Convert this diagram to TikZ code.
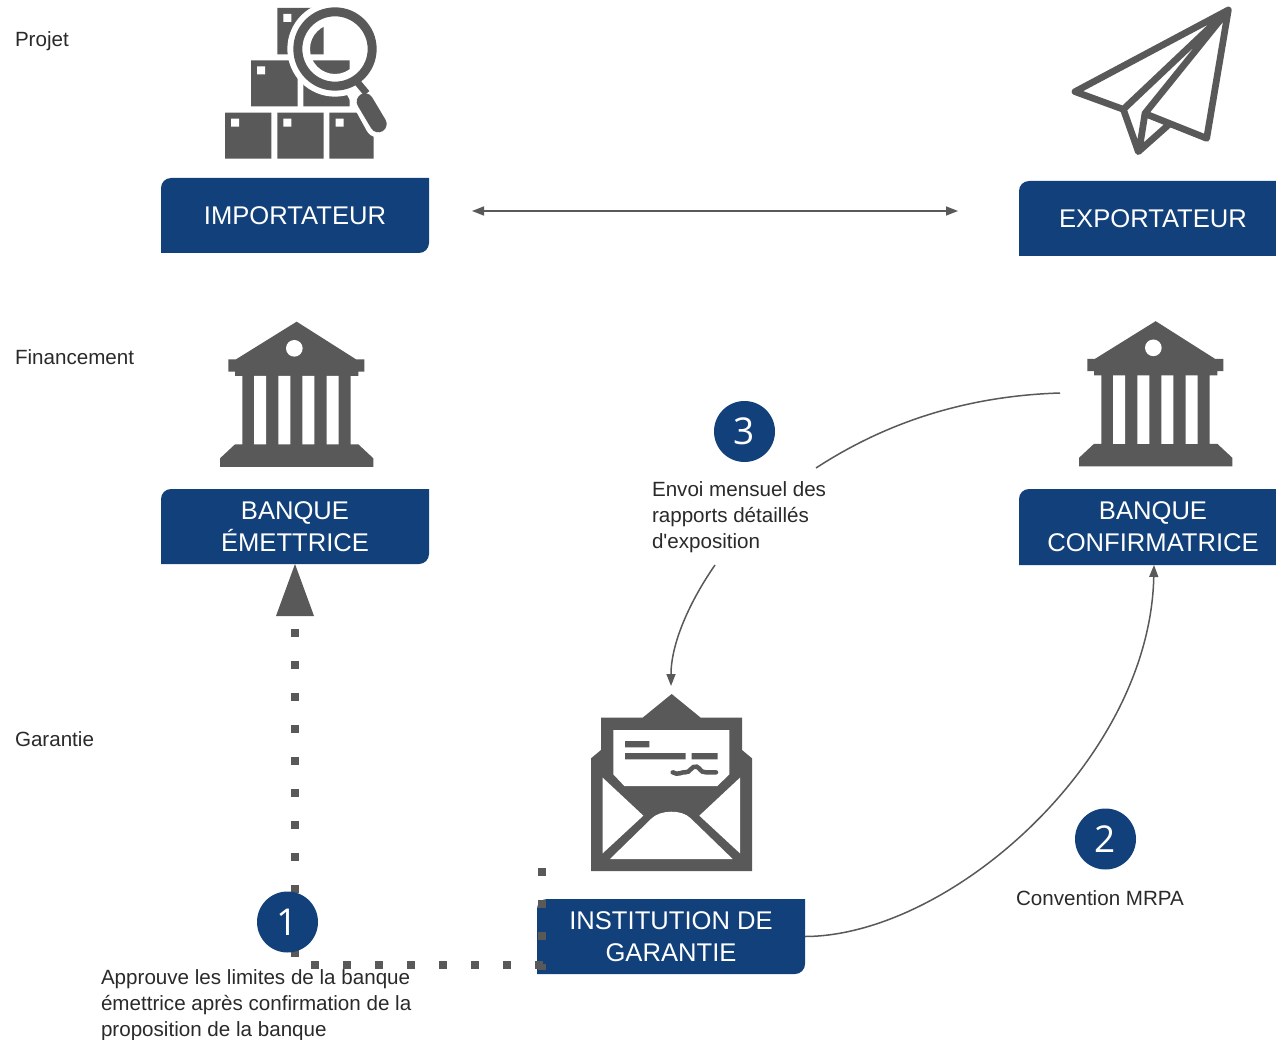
\documentclass[tikz,border=0pt]{standalone}
\usepackage{fontspec}
\setmainfont{Liberation Sans}
\newfontfamily\plainfont{Liberation Sans}
\newfontfamily\digitfont{Open Sans}
\usetikzlibrary{arrows.meta,backgrounds}
\definecolor{navy}{HTML}{11407A}
\definecolor{ink}{HTML}{595959}
\definecolor{txt}{HTML}{2A2A2A}
\tikzset{
  x=1pt,y=-1pt,
  boxlabel/.style={inner sep=0pt,outer sep=0pt,text=white,align=center,font=\fontsize{25.6}{32}\selectfont},
  caption/.style={inner sep=0pt,outer sep=0pt,anchor=north west,align=left,text=txt,font=\fontsize{20.6}{25.8}\selectfont},
  badge/.style={circle,fill=navy,inner sep=0pt,minimum size=61pt,text=white,font=\digitfont\fontsize{37}{37}\selectfont},
  thinarrow/.style={draw=ink,line width=1.5pt},
  tip/.style={-{Triangle[length=12pt,width=9pt]}},
  dots/.style={draw=ink,line width=8pt,dash pattern=on 8pt off 24pt},
  bank/.pic={
    \fill[ink] (260,20)--(438,133)--(463,133)--(463,170)--(445,170)--(445,183)--(422,183)--(422,388)--(445,388)--(490,430)--(490,456)--(30,456)--(30,430)--(75,388)--(97,388)--(97,183)--(75,183)--(75,170)--(55,170)--(55,133)--(78,133)--cycle;
    \fill[white] (132,183) rectangle (168,388) (205,183) rectangle (241,388) (277,183) rectangle (313,388) (350,183) rectangle (386,388);
    \fill[white] (253,100) circle (25);
  }
}
% navy box: top-left corner always rounded, bottom-right when asked
\newcommand{\navybox}[1]{%
  \begin{pgfonlayer}{background}
  \fill[navy] (#1.south west) -- ([yshift=-10pt]#1.north west) .. controls ([yshift=-4.5pt]#1.north west) and ([xshift=4.5pt]#1.north west) .. ([xshift=10pt]#1.north west) -- (#1.north east) -- ([yshift=10pt]#1.south east) .. controls ([yshift=4.5pt]#1.south east) and ([xshift=-4.5pt]#1.south east) .. ([xshift=-10pt]#1.south east) -- cycle;
  \end{pgfonlayer}}
\newcommand{\navyboxcut}[1]{%
  \begin{pgfonlayer}{background}
  \fill[navy] (#1.south west) -- ([yshift=-10pt]#1.north west) .. controls ([yshift=-4.5pt]#1.north west) and ([xshift=4.5pt]#1.north west) .. ([xshift=10pt]#1.north west) -- (#1.north east) -- (#1.south east) -- cycle;
  \end{pgfonlayer}}
\begin{document}
\begin{tikzpicture}
\useasboundingbox (0,0) rectangle (1276,1040);
\begin{pgfonlayer}{background}\fill[white] (0,0) rectangle (1276,1040);\end{pgfonlayer}

% boxes
\node[boxlabel,minimum width=268pt,minimum height=75pt] (imp) at (295,215.5) {IMPORTATEUR};
\node[boxlabel,minimum width=257pt,minimum height=75pt] (exp) at (1147.5,218.5) {\hspace*{11pt}EXPORTATEUR};
\node[boxlabel,minimum width=268pt,minimum height=75pt] (bem) at (295,526.5) {BANQUE\\ÉMETTRICE};
\node[boxlabel,minimum width=257pt,minimum height=76pt] (bco) at (1147.5,527) {\hspace*{11pt}BANQUE\\\hspace*{11pt}CONFIRMATRICE};
\node[boxlabel,minimum width=268pt,minimum height=75pt] (ins) at (671,936.5) {INSTITUTION DE\\GARANTIE};
\navybox{imp}\navyboxcut{exp}\navybox{bem}\navyboxcut{bco}\navybox{ins}

% side labels
\node[caption] (l1) at (15,32) {Projet};
\node[caption] (l2) at (15,350) {Financement};
\node[caption] (l3) at (15,732) {Garantie};

% icon: boxes and lens
\begin{scope}[shift={(210,0)},scale=1/3]
  \fill[ink] (45,338) rectangle (184,476) (202,338) rectangle (341,476) (358,338) rectangle (491,476)
             (123,181) rectangle (263,319) (280,181) rectangle (419,319) (202,24) rectangle (341,163);
  \fill[white] (63,356) rectangle (87,380) (220,356) rectangle (244,380) (377,356) rectangle (401,380)
               (141,199) rectangle (165,223) (220,42) rectangle (244,66);
  \draw[white,line width=28pt,line cap=round] (440,250) -- (507,372);
  \fill[white,even odd rule] (375,147) circle (143) (375,147) circle (75);
  \fill[ink,even odd rule] (375,147) circle (125) (375,147) circle (98);
  \draw[ink,line width=7pt] (430,232) -- (470,280);
  \draw[ink,line width=16.7pt,line cap=round] (465,305) -- (505,372);
\end{scope}

% icon: plane
\begin{scope}[shift={(1060,0)},scale=1/3]
  \draw[ink,line width=6.7pt,line join=round,line cap=round]
    (505,30)--(45,275)--(190,328)--(235,455)--(325,375)
    (190,328)--(505,30)
    (505,30)--(255,340)--(240,435)
    (265,345)--(440,415)--(505,30);
\end{scope}

% icon: banks
\pic[shift={(210,315)},scale=1/3] {bank};
\pic[shift={(1069,314.5)},scale=1/3] {bank};

% icon: envelope
\begin{scope}[shift={(580,685)},scale=1/3]
  \fill[ink] (275,27)--(362,98)--(486,98)--(486,195)--(516,220)--(516,558)--(33,558)--(33,220)--(63,195)--(63,98)--(188,98)--cycle;
  \fill[white] (100,135)--(448,135)--(448,268)--(412,303)--(133,303)--(100,268)--cycle;
  \fill[ink] (135,168) rectangle (208,187) (135,204) rectangle (317,223) (335,204) rectangle (413,223);
  \draw[ink,line width=4.5pt,line cap=round] (278,262) .. controls (295,272) and (305,260) .. (315,262) .. controls (330,265) and (335,240) .. (350,245) .. controls (362,250) and (360,262) .. (378,262) -- (408,262);
  \fill[white] (68,278)--(190,392)--(68,505)--cycle (480,278)--(358,392)--(480,505)--cycle;
  \fill[white] (90,522)--(215,400) .. controls (240,375) and (305,372) .. (332,400) -- (458,522)--cycle;
\end{scope}

% connectors
\coordinate (a1) at (472,211);
\coordinate (a2) at (958,211);
\draw[thinarrow,{Triangle[length=12pt,width=9pt]}-{Triangle[length=12pt,width=9pt]}] (a1) -- (a2);

\coordinate (c1) at (1060,393);
\coordinate (c2) at (816,468);
\draw[thinarrow] (c1) .. controls (965,396) and (885,423) .. (c2);
\coordinate (c3) at (715,565);
\coordinate (c4) at (671,686);
\draw[thinarrow,tip] (c3) .. controls (688,604) and (671,645) .. (c4);
\coordinate (c5) at (1154,565);
\draw[thinarrow,tip] (ins.east) .. controls (950,936) and (1150,760) .. (c5);

% dotted links
\coordinate (d0) at (295,629);
\coordinate (d1) at (295,958);
\draw[dots] (d0) -- (d1);
\coordinate (e0) at (311,965);
\coordinate (e1) at (545,965);
\draw[dots] (e0) -- (e1);
\coordinate (f0) at (542,868);
\coordinate (f1) at (542,970);
\draw[dots] (f0) -- (f1);
\fill[ink] (bem.south) -- (314,616) -- (276,616) -- cycle;

% badges
\node[badge] (n1) at (287.5,922) {1};
\node[badge] (n2) at (1105.5,839) {2};
\node[badge] (n3) at (744.5,431.5) {3};

% captions
\node[caption] (t3) at (652,482) {Envoi mensuel des\\rapports détaillés\\d{\plainfont '}exposition};
\node[caption] (t2) at (1016,891) {Convention MRPA};
\node[caption] (t1) at (101,970) {Approuve les limites de la banque\\émettrice après confirmation de la\\proposition de la banque};
\end{tikzpicture}
\end{document}
